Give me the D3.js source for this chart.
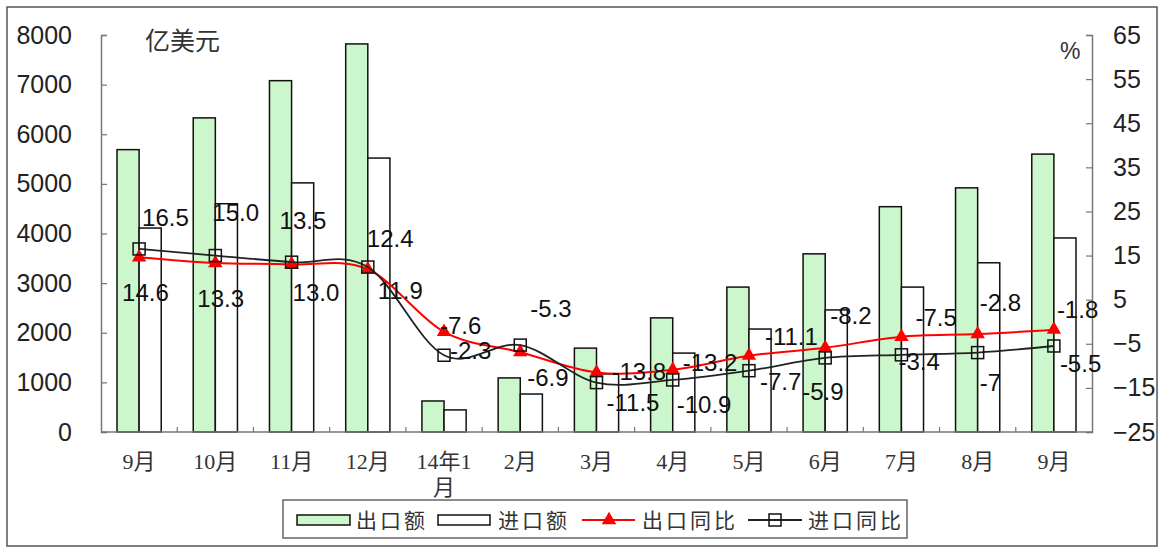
<!DOCTYPE html>
<html>
<head>
<meta charset="utf-8">
<script src="https://cdn.jsdelivr.net/npm/d3@7"></script>
<style>
  body { margin: 0; background: #fff; }
  svg { display: block; }
</style>
</head>
<body>
<svg width="1161" height="550"></svg>
<script>
// data
const categories = ['9月', '10月', '11月', '12月', '14年1月', '2月', '3月', '4月', '5月', '6月', '7月', '8月', '9月b'];
const exportValue = [5690, 6330, 7080, 7820, 625, 1090, 1690, 2300, 2920, 3590, 4540, 4920, 5600];
const importValue = [4110, 4600, 5020, 5520, 445, 765, 1170, 1590, 2075, 2460, 2920, 3410, 3910];
const exportYoY = [14.6, 13.3, 13.0, 11.9, -2.3, -6.9, -11.5, -10.9, -7.7, -5.9, -3.4, -2.8, -1.8];
const importYoY = [16.5, 15.0, 13.5, 12.4, -7.6, -5.3, -13.8, -13.2, -11.1, -8.2, -7.5, -7, -5.5];
const exportLabels = ['14.6', '13.3', '13.0', '11.9', '-2.3', '-6.9', '-11.5', '-10.9', '-7.7', '-5.9', '-3.4', '-2.8', '-1.8'];
const importLabels = ['16.5', '15.0', '13.5', '12.4', '-7.6', '-5.3', '-13.8', '-13.2', '-11.1', '-8.2', '-7.5', '-7', '-5.5'];
const leftTicks = [0, 1000, 2000, 3000, 4000, 5000, 6000, 7000, 8000];
const rightTicks = [-25, -15, -5, 5, 15, 25, 35, 45, 55, 65];

// label offsets (left edge / vertical centre relative to the point)
const exportLabelOffset = [[-17, 35], [-18, 35], [1, 28], [10, 21], [6, 18], [7, 25], [10, 30], [4, 35], [11, 26], [-23, 44], [-3, 25], [2, -32], [3, -20]];
const importLabelOffset = [[3, -32], [-3, -43], [-12, -42], [-1, -29], [-4, -30], [10, -37], [15, -11], [10, -18], [16, -34], [5, -43], [14, -37], [2, 30], [6, 17]];

const svg = d3.select('svg');
const plot = { left: 101, right: 1092, top: 35, bottom: 432 };

// outer frame
svg.append('rect')
  .attr('x', 7).attr('y', 7).attr('width', 1150).attr('height', 539)
  .attr('fill', 'none').attr('stroke', '#555').attr('stroke-width', 1.5);

const x = d3.scaleBand().domain(categories).range([plot.left, plot.right]).padding(0);
const yL = d3.scaleLinear().domain([0, 8000]).range([plot.bottom, plot.top]);
const yR = d3.scaleLinear().domain([-25, 65]).range([plot.bottom, plot.top]);
const cx = d => x(d) + x.bandwidth() / 2;
const barW = x.bandwidth() * 0.29;

// bars
const bars = svg.append('g');
bars.selectAll('rect.exp').data(categories).enter().append('rect')
  .attr('x', d => cx(d) - barW)
  .attr('y', (d, i) => yL(exportValue[i]))
  .attr('width', barW)
  .attr('height', (d, i) => yL(0) - yL(exportValue[i]))
  .attr('fill', '#ccf7cc').attr('stroke', '#111').attr('stroke-width', 1.5);
bars.selectAll('rect.imp').data(categories).enter().append('rect')
  .attr('x', d => cx(d))
  .attr('y', (d, i) => yL(importValue[i]))
  .attr('width', barW)
  .attr('height', (d, i) => yL(0) - yL(importValue[i]))
  .attr('fill', '#fff').attr('stroke', '#111').attr('stroke-width', 1.5);

// axes
const axisColor = '#777';
const tickFont = '"Liberation Sans", Arial, sans-serif';
const gl = svg.append('g').attr('transform', `translate(${plot.left},0)`)
  .call(d3.axisLeft(yL).tickValues(leftTicks).tickSize(-6).tickPadding(29).tickFormat(d3.format('d')));
const gr = svg.append('g').attr('transform', `translate(${plot.right},0)`)
  .call(d3.axisRight(yR).tickValues(rightTicks).tickSize(-6).tickPadding(21).tickFormat(d3.format('d')));
[gl, gr].forEach(g => {
  g.select('.domain').attr('stroke', axisColor).attr('stroke-width', 1.5);
  g.selectAll('.tick line').attr('stroke', axisColor).attr('stroke-width', 1.2);
  g.selectAll('.tick text').attr('font-size', 25).attr('font-family', tickFont).attr('fill', '#222');
});

// x axis
const gx = svg.append('g');
gx.append('line')
  .attr('x1', plot.left).attr('x2', plot.right)
  .attr('y1', plot.bottom).attr('y2', plot.bottom)
  .attr('stroke', axisColor).attr('stroke-width', 1.5);
gx.selectAll('line.t').data(categories.slice(1)).enter().append('line')
  .attr('x1', d => x(d)).attr('x2', d => x(d))
  .attr('y1', plot.bottom).attr('y2', plot.bottom - 5)
  .attr('stroke', axisColor).attr('stroke-width', 1.2);
const catFont = '"Liberation Serif", "Noto Sans CJK SC", serif';
gx.selectAll('text').data(categories).enter().append('text')
  .attr('x', d => cx(d)).attr('y', 469)
  .attr('text-anchor', 'middle').attr('font-size', 22).attr('font-family', catFont).attr('fill', '#333')
  .each(function (d) {
    const t = d3.select(this);
    const name = d.replace('b', '');
    if (name === '14年1月') {
      t.append('tspan').attr('x', cx(d)).text('14年1');
      t.append('tspan').attr('x', cx(d)).attr('dy', 26).text('月');
    } else {
      t.text(name);
    }
  });

// unit labels
svg.append('text').attr('x', 145).attr('y', 50).text('亿美元')
  .attr('font-size', 25).attr('font-family', '"Noto Sans CJK SC", sans-serif').attr('fill', '#333');
svg.append('text').attr('x', 1060).attr('y', 59).text('%')
  .attr('font-size', 23).attr('font-family', tickFont).attr('fill', '#333');

// lines
const lineExp = d3.line().x((d, i) => cx(categories[i])).y(d => yR(d)).curve(d3.curveCatmullRom.alpha(0));
svg.append('path').datum(exportYoY).attr('d', lineExp)
  .attr('fill', 'none').attr('stroke', '#ff0000').attr('stroke-width', 2);
const tri = d3.symbol().type(d3.symbolTriangle).size(90);
svg.selectAll('path.tri').data(exportYoY).enter().append('path')
  .attr('d', tri)
  .attr('transform', (d, i) => `translate(${cx(categories[i])},${yR(d)})`)
  .attr('fill', '#ff0000');

svg.append('path').datum(importYoY).attr('d', lineExp)
  .attr('fill', 'none').attr('stroke', '#222').attr('stroke-width', 1.8);
svg.selectAll('rect.sq').data(importYoY).enter().append('rect')
  .attr('x', (d, i) => cx(categories[i]) - 6)
  .attr('y', d => yR(d) - 6)
  .attr('width', 12).attr('height', 12)
  .attr('fill', 'none').attr('stroke', '#111').attr('stroke-width', 1.5);

// data labels
const labelFont = '"Liberation Sans", Arial, sans-serif';
const labels = svg.append('g').attr('font-size', 24).attr('font-family', labelFont).attr('fill', '#111');
labels.selectAll('text.e').data(exportYoY).enter().append('text')
  .attr('x', (d, i) => cx(categories[i]) + exportLabelOffset[i][0])
  .attr('y', (d, i) => yR(d) + exportLabelOffset[i][1])
  .attr('dy', '0.36em')
  .text((d, i) => exportLabels[i]);
labels.selectAll('text.m').data(importYoY).enter().append('text')
  .attr('x', (d, i) => cx(categories[i]) + importLabelOffset[i][0])
  .attr('y', (d, i) => yR(d) + importLabelOffset[i][1])
  .attr('dy', '0.36em')
  .text((d, i) => importLabels[i]);

// legend
const lg = svg.append('g');
lg.append('rect').attr('x', 283).attr('y', 500).attr('width', 624).attr('height', 38)
  .attr('fill', '#fff').attr('stroke', '#666').attr('stroke-width', 1.5);
const legendFont = '"Noto Sans CJK SC", sans-serif';
const legendItems = [
  { name: '出口额', sx: 297, tx: 356 },
  { name: '进口额', sx: 438, tx: 498 },
  { name: '出口同比', sx: 582, tx: 642 },
  { name: '进口同比', sx: 748, tx: 808 }
];
lg.append('rect').attr('x', 297).attr('y', 515).attr('width', 53).attr('height', 10)
  .attr('fill', '#ccf7cc').attr('stroke', '#111').attr('stroke-width', 1.5);
lg.append('rect').attr('x', 438).attr('y', 515).attr('width', 52).attr('height', 10)
  .attr('fill', '#fff').attr('stroke', '#111').attr('stroke-width', 1.5);
lg.append('line').attr('x1', 582).attr('x2', 635).attr('y1', 520).attr('y2', 520)
  .attr('stroke', '#ff0000').attr('stroke-width', 2);
lg.append('path').attr('d', tri).attr('transform', 'translate(609,520)').attr('fill', '#ff0000');
lg.append('line').attr('x1', 748).attr('x2', 802).attr('y1', 520).attr('y2', 520)
  .attr('stroke', '#222').attr('stroke-width', 1.8);
lg.append('rect').attr('x', 769).attr('y', 514).attr('width', 12).attr('height', 12)
  .attr('fill', 'none').attr('stroke', '#111').attr('stroke-width', 1.5);
lg.selectAll('text').data(legendItems).enter().append('text')
  .attr('x', d => d.tx).attr('y', 520).attr('dy', '0.36em')
  .attr('font-size', 21).attr('letter-spacing', 3).attr('font-family', legendFont).attr('fill', '#333')
  .text(d => d.name);
</script>
</body>
</html>
